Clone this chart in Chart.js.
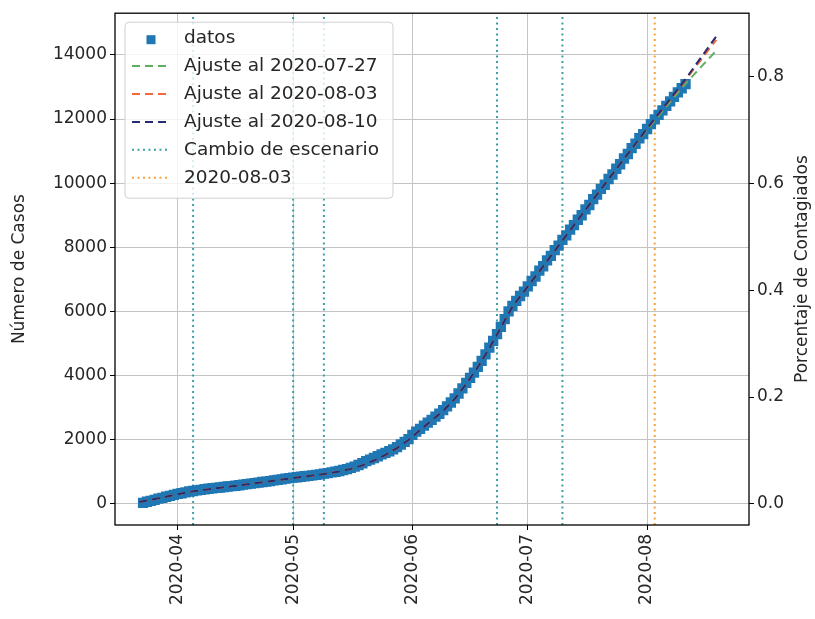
<!DOCTYPE html>
<html>
<head>
<meta charset="utf-8">
<script src="https://cdn.jsdelivr.net/npm/chart.js@4.4.1/dist/chart.umd.min.js"></script>
<style>
  html, body { margin: 0; padding: 0; background: #fff; }
  #wrap { width: 815px; height: 619px; }
</style>
</head>
<body>
<div id="wrap"><canvas id="chart" width="815" height="619"></canvas></div>
<script>
// casos acumulados, un valor por dia desde inicioDatos
const inicioDatos = '2020-03-23';
const casos = [
  30, 65, 95, 125, 160, 185, 220, 250, 280,
  310, 330, 355, 385, 400, 420, 435, 455, 470, 485, 500, 510, 525, 540, 555,
  565, 580, 600, 615, 630, 645, 660, 680, 695, 710, 730, 745, 765, 785, 800,
  820, 830, 845, 860, 870, 885, 905, 920, 940, 960, 980, 1000, 1025, 1055, 1085,
  1120, 1160, 1210, 1265, 1330, 1380, 1430, 1485, 1540, 1590, 1640, 1700, 1770, 1850, 1930, 2020,
  2150, 2250, 2340, 2440, 2530, 2620, 2720, 2810, 2920, 3040, 3160, 3290, 3440, 3600, 3770,
  3930, 4090, 4270, 4460, 4660, 4870, 5080, 5290, 5520, 5760, 6000, 6170, 6330, 6480, 6620,
  6780, 6950, 7090, 7270, 7410, 7590, 7730, 7910, 8050, 8230, 8370, 8550, 8690, 8860, 9000,
  9180, 9320, 9500, 9640, 9820, 9950, 10130, 10270, 10450, 10590, 10770, 10910, 11090, 11230, 11400, 11530,
  11690, 11840, 11990, 12130, 12270, 12410, 12550, 12690, 12830, 12960, 13090
];

// curvas de ajuste
const fechasAjuste = [
  '2020-03-22', '2020-03-26', '2020-04-01', '2020-04-05', '2020-04-10', '2020-04-15', '2020-04-20',
  '2020-04-25', '2020-05-01', '2020-05-05', '2020-05-09', '2020-05-13', '2020-05-16', '2020-05-19',
  '2020-05-22', '2020-05-25', '2020-05-28', '2020-05-31', '2020-06-03', '2020-06-06', '2020-06-09',
  '2020-06-12', '2020-06-15', '2020-06-18', '2020-06-21', '2020-06-24', '2020-06-27', '2020-06-30',
  '2020-07-04', '2020-07-08', '2020-07-12', '2020-07-16', '2020-07-20', '2020-07-24', '2020-07-28',
  '2020-08-01', '2020-08-04', '2020-08-07', '2020-08-10', '2020-08-13', '2020-08-16', '2020-08-19'
];
const ajuste0727 = [
  60, 150, 300, 390, 470, 545, 625, 705, 805, 865, 930, 1010, 1090, 1200,
  1350, 1530, 1740, 1990, 2300, 2600, 2900, 3270, 3740, 4260, 4850, 5500, 6150, 6620,
  7250, 7890, 8530, 9170, 9810, 10440, 11060, 11660, 12100, 12530, 12960, 13360, 13750, 14130
];
const ajuste0803 = [
  60, 150, 300, 390, 470, 545, 625, 705, 805, 865, 930, 1010, 1090, 1200,
  1350, 1530, 1740, 1990, 2300, 2600, 2900, 3270, 3740, 4260, 4850, 5500, 6150, 6620,
  7250, 7890, 8530, 9170, 9810, 10440, 11070, 11690, 12150, 12600, 13050, 13530, 14000, 14470
];
const ajuste0810 = [
  60, 150, 300, 390, 470, 545, 625, 705, 805, 865, 930, 1010, 1090, 1200,
  1350, 1530, 1740, 1990, 2300, 2600, 2900, 3270, 3740, 4260, 4850, 5500, 6150, 6620,
  7250, 7890, 8530, 9170, 9810, 10440, 11070, 11700, 12160, 12620, 13080, 13580, 14080, 14580
];

const cambiosEscenario = ['2020-04-05', '2020-05-01', '2020-05-09', '2020-06-23', '2020-07-10'];
const fechaCorte = '2020-08-03';

const ticksFecha = ['2020-04-01', '2020-05-01', '2020-06-01', '2020-07-01', '2020-08-01'];
const ticksCasos = [0, 2000, 4000, 6000, 8000, 10000, 12000, 14000];
const ticksPorcentaje = [0, 0.2, 0.4, 0.6, 0.8];
const poblacion = 16650;

// dias desde el 2020-01-01
const dia = (s) => (Date.parse(s + 'T00:00:00Z') - Date.parse('2020-01-01T00:00:00Z')) / 86400000;

const xMin = 74.7, xMax = 239.5;
const yMin = -660, yMax = 15300;
const fuente = '"DejaVu Sans", sans-serif';
const colorTexto = '#262626';

const d0 = dia(inicioDatos);
const puntos = casos.map((v, i) => ({ x: d0 + i, y: v }));
const curva = (vals) => fechasAjuste.map((f, i) => ({ x: dia(f), y: vals[i] }));

const vertical = (f, label, color) => ({
  type: 'line',
  label: label,
  data: [{ x: dia(f), y: yMin }, { x: dia(f), y: yMax }],
  borderColor: color,
  borderWidth: 2,
  borderDash: [2, 3.5],
  pointRadius: 0,
  order: 20
});

const datasets = [
  {
    type: 'scatter',
    label: 'datos',
    data: puntos,
    pointStyle: 'rect',
    pointRadius: 7.3,
    backgroundColor: '#1f77b4',
    borderWidth: 0,
    order: 10
  },
  { type: 'line', label: 'Ajuste al 2020-07-27', data: curva(ajuste0727), borderColor: '#5fae5f', order: 3 },
  { type: 'line', label: 'Ajuste al 2020-08-03', data: curva(ajuste0803), borderColor: '#f2693a', order: 2 },
  { type: 'line', label: 'Ajuste al 2020-08-10', data: curva(ajuste0810), borderColor: '#292b70', order: 1 }
];
datasets.slice(1).forEach(ds => {
  ds.borderWidth = 2;
  ds.borderDash = [8, 5];
  ds.pointRadius = 0;
  ds.tension = 0;
});
cambiosEscenario.forEach((f, i) => {
  datasets.push(vertical(f, i === 0 ? 'Cambio de escenario' : '', '#3c9fa6'));
});
datasets.push(vertical(fechaCorte, '2020-08-03', '#f4a340'));

// marco, titulos de ejes y leyenda dentro del area
const decoracion = {
  id: 'decoracion',
  afterDraw(chart) {
    const { ctx, chartArea: a } = chart;
    ctx.save();
    ctx.strokeStyle = '#000';
    ctx.lineWidth = 1.3;
    ctx.strokeRect(a.left, a.top, a.right - a.left, a.bottom - a.top);

    ctx.fillStyle = colorTexto;
    ctx.font = '17px ' + fuente;
    ctx.textAlign = 'center';
    ctx.textBaseline = 'middle';
    const cy = (a.top + a.bottom) / 2;
    [[20, 'Número de Casos'], [803, 'Porcentaje de Contagiados']].forEach(([x, t]) => {
      ctx.save();
      ctx.translate(x, cy);
      ctx.rotate(-Math.PI / 2);
      ctx.fillText(t, 0, 0);
      ctx.restore();
    });

    const items = chart.data.datasets.filter(ds => ds.label);
    const bx = a.left + 10, by = a.top + 9, bw = 268, bh = 176;
    ctx.globalAlpha = 0.8;
    ctx.fillStyle = '#fff';
    ctx.beginPath();
    ctx.roundRect(bx, by, bw, bh, 4);
    ctx.fill();
    ctx.globalAlpha = 1;
    ctx.strokeStyle = '#d0d0d0';
    ctx.lineWidth = 1;
    ctx.stroke();

    ctx.textAlign = 'left';
    ctx.font = '18.5px ' + fuente;
    items.forEach((ds, i) => {
      const y = by + 16 + i * 27.9;
      if (ds.type === 'scatter') {
        ctx.fillStyle = ds.backgroundColor;
        ctx.fillRect(146.5, y - 3, 9, 9);
      } else {
        ctx.strokeStyle = ds.borderColor;
        ctx.lineWidth = 2;
        ctx.setLineDash(ds.borderDash);
        ctx.beginPath();
        ctx.moveTo(132, y);
        ctx.lineTo(170, y);
        ctx.stroke();
        ctx.setLineDash([]);
      }
      ctx.fillStyle = colorTexto;
      ctx.fillText(ds.label, 184, y);
    });
    ctx.restore();
  }
};

const fijarTicks = (valores) => (scale) => {
  scale.ticks = valores.map(v => ({ value: v }));
};

new Chart(document.getElementById('chart'), {
  type: 'line',
  data: { datasets: datasets },
  plugins: [decoracion],
  options: {
    responsive: false,
    animation: false,
    layout: { padding: { top: 10, right: 0, left: 0, bottom: 0 } },
    plugins: {
      legend: { display: false },
      tooltip: { enabled: false }
    },
    scales: {
      x: {
        type: 'linear',
        min: xMin,
        max: xMax,
        afterBuildTicks: fijarTicks(ticksFecha.map(dia)),
        afterFit: (s) => { s.height = 94; },
        grid: { color: '#c4c4c4', lineWidth: 1, tickLength: 5, tickColor: '#000' },
        border: { display: false },
        ticks: {
          minRotation: 90,
          maxRotation: 90,
          autoSkip: false,
          padding: 4,
          color: colorTexto,
          font: { family: fuente, size: 17 },
          callback: (v) => {
            const i = ticksFecha.map(dia).indexOf(v);
            return i >= 0 ? ticksFecha[i].slice(0, 7) : '';
          }
        }
      },
      y: {
        position: 'left',
        min: yMin,
        max: yMax,
        afterBuildTicks: fijarTicks(ticksCasos),
        afterFit: (s) => { s.width = 115; },
        grid: { color: '#c4c4c4', lineWidth: 1, tickLength: 5, tickColor: '#000' },
        border: { display: false },
        ticks: {
          padding: 3,
          color: colorTexto,
          font: { family: fuente, size: 17 },
          callback: (v) => String(v)
        }
      },
      y2: {
        position: 'right',
        min: yMin / poblacion,
        max: yMax / poblacion,
        afterBuildTicks: fijarTicks(ticksPorcentaje),
        afterFit: (s) => { s.width = 66; },
        grid: { drawOnChartArea: false, tickLength: 5, tickColor: '#000' },
        border: { display: false },
        ticks: {
          padding: 3,
          color: colorTexto,
          font: { family: fuente, size: 17 },
          callback: (v) => v.toFixed(1)
        }
      }
    }
  }
});
</script>
</body>
</html>
